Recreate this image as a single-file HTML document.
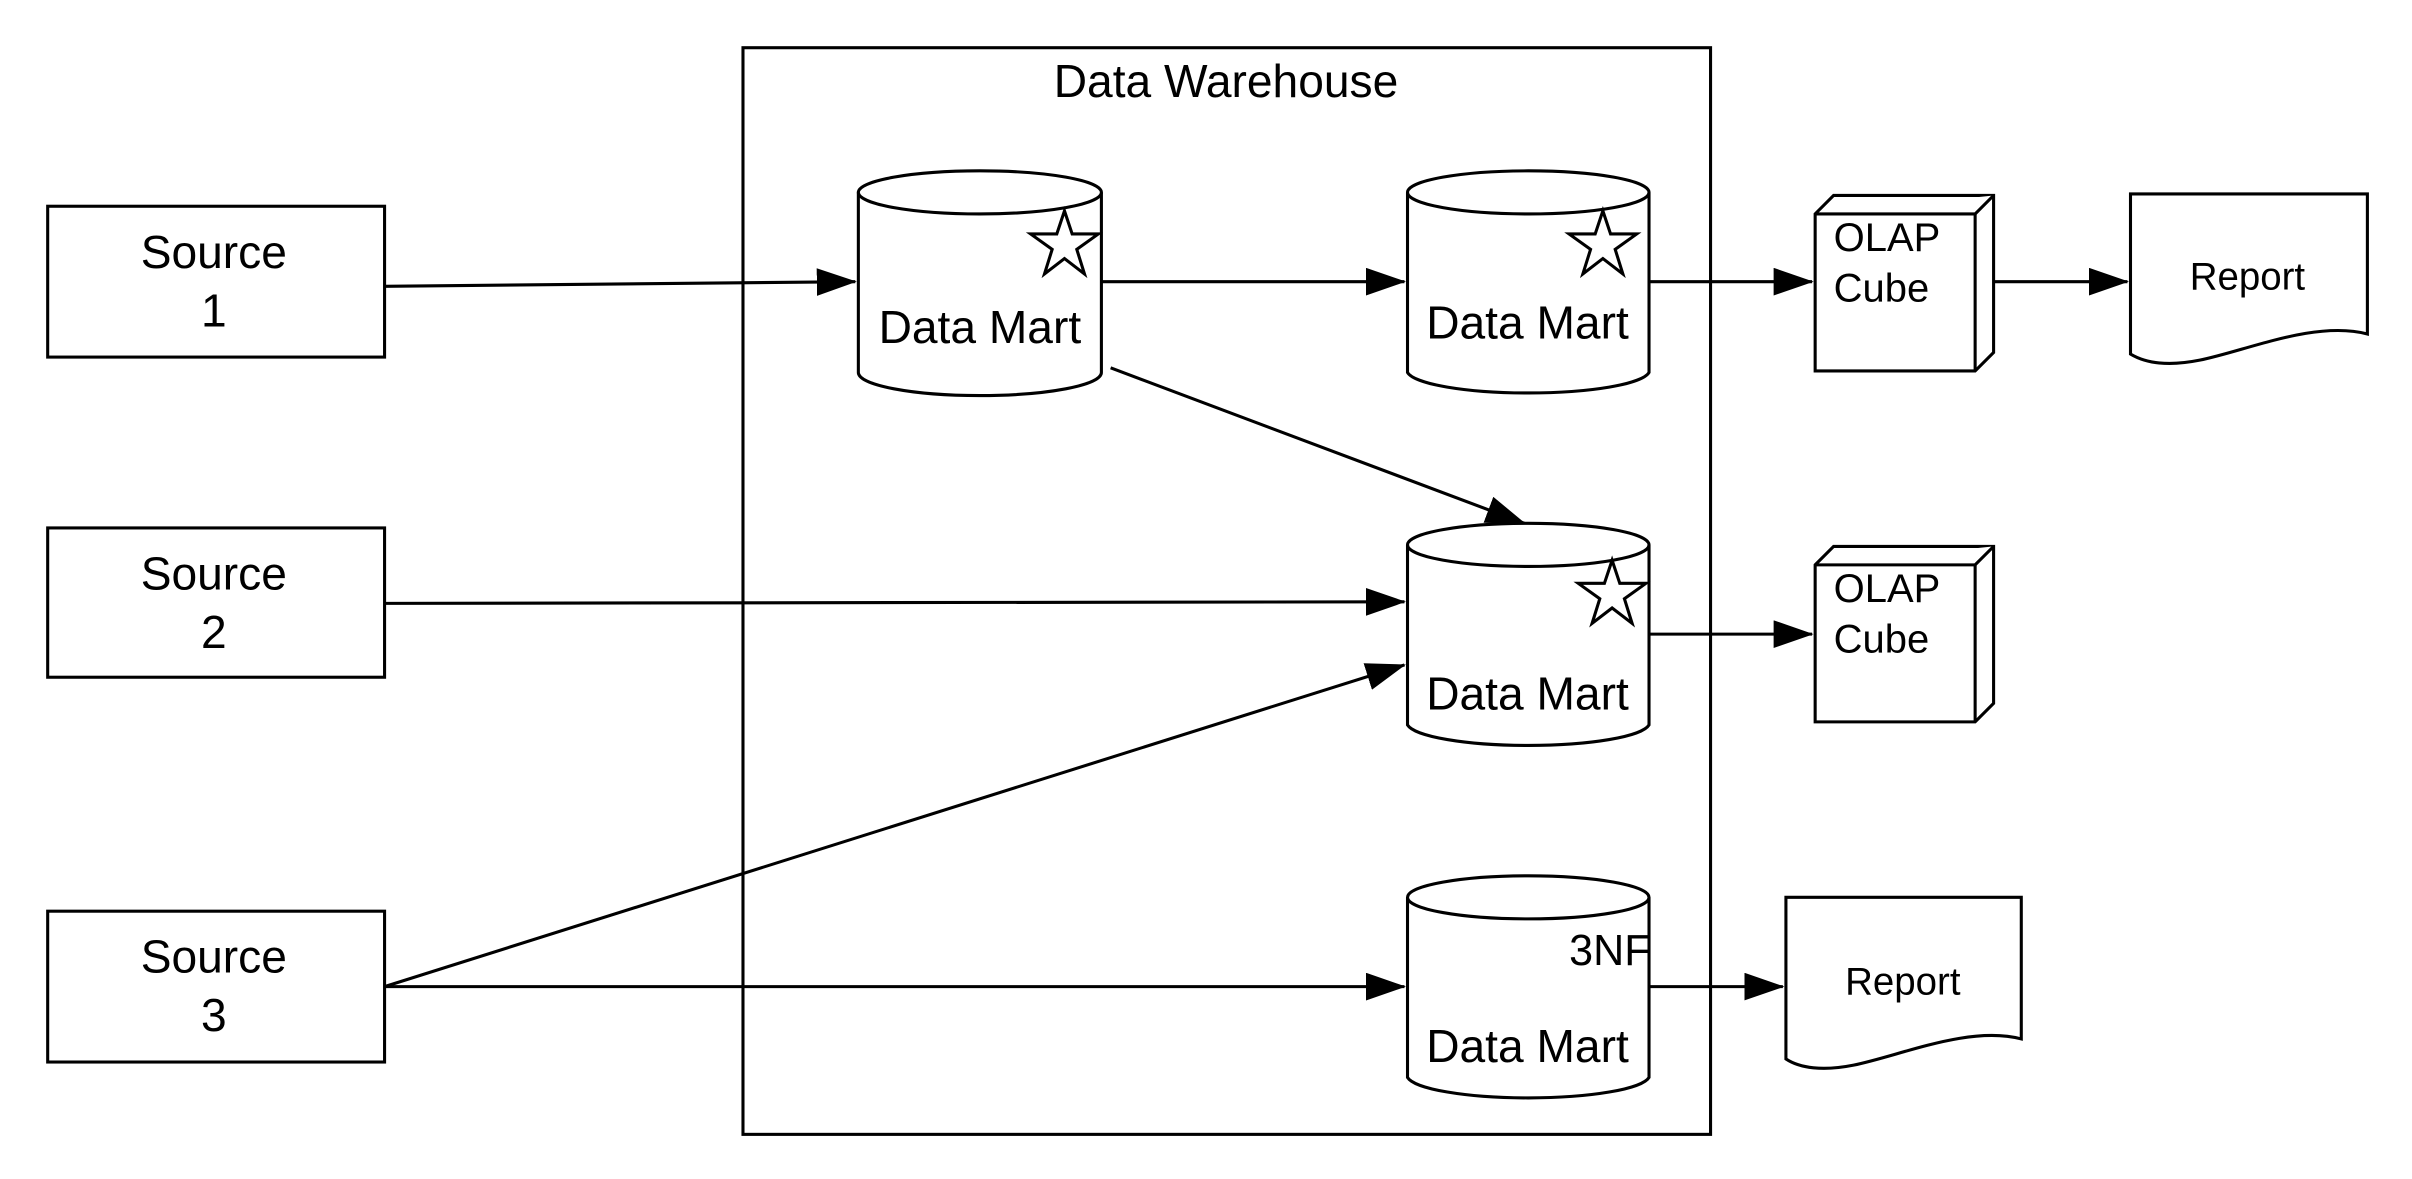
<!DOCTYPE html>
<html><head><meta charset="utf-8"><style>
html,body{margin:0;padding:0;background:#fff;}
svg{display:block;}
text{font-family:"Liberation Sans",Arial,sans-serif;fill:#000;}
</style></head><body>
<svg width="2412" height="1179" viewBox="0 0 1568 766" preserveAspectRatio="none" xmlns="http://www.w3.org/2000/svg">
<defs>
<marker id="a" markerWidth="26" markerHeight="20" refX="25" refY="9" orient="auto" markerUnits="userSpaceOnUse">
<path d="M0,0 L26,9 L0,18 Z" fill="#000"/>
</marker>
</defs>
<g fill="#fff" stroke="#000" stroke-width="2">
<rect x="483" y="31" width="629" height="706"/>
<rect x="31" y="134" width="219" height="98"/>
<rect x="31" y="343" width="219" height="97"/>
<rect x="31" y="592" width="219" height="98"/>
</g>
<text x="797" y="63" font-size="30" text-anchor="middle">Data Warehouse</text>
<g font-size="30" text-anchor="middle">
<text x="139" y="174">Source</text><text x="139" y="212">1</text>
<text x="139" y="383">Source</text><text x="139" y="421">2</text>
<text x="139" y="632">Source</text><text x="139" y="670">3</text>
</g>
<!-- connectors -->
<g stroke="#000" stroke-width="2" fill="none" marker-end="url(#a)">
<line x1="250" y1="186" x2="556" y2="183"/>
<line x1="716" y1="183" x2="913" y2="183"/>
<line x1="1072" y1="183" x2="1178" y2="183"/>
<line x1="1296" y1="183" x2="1383" y2="183"/>
<line x1="722" y1="239" x2="991" y2="340"/>
<line x1="250" y1="392" x2="913" y2="391"/>
<line x1="250" y1="641" x2="913" y2="432"/>
<line x1="250" y1="641" x2="913" y2="641"/>
<line x1="1072" y1="412" x2="1178" y2="412"/>
<line x1="1072" y1="641" x2="1159" y2="641"/>
</g>
<!-- cylinders -->
<g fill="#fff" stroke="#000" stroke-width="2">
<path d="M558,125 L558,242 A79,15 0 0 0 716,242 L716,125"/>
<ellipse cx="637" cy="125" rx="79" ry="14"/>
<path d="M915,125 L915,242 A79,15 0 0 0 1072,242 L1072,125"/>
<ellipse cx="993.5" cy="125" rx="78.5" ry="14"/>
<path d="M915,354 L915,471 A79,15 0 0 0 1072,471 L1072,354"/>
<ellipse cx="993.5" cy="354" rx="78.5" ry="14"/>
<path d="M915,583 L915,700 A79,15 0 0 0 1072,700 L1072,583"/>
<ellipse cx="993.5" cy="583" rx="78.5" ry="14"/>
</g>
<g fill="#fff" stroke="#000" stroke-width="2">
<polygon points="692,137 697,152 714,152 700,162 705,178 692,168 679,178 684,162 670,152 687,152"/>
<polygon points="1042,137 1047,152 1064,152 1050,162 1055,178 1042,168 1029,178 1034,162 1020,152 1037,152"/>
<polygon points="1048,364 1053,379 1070,379 1056,389 1061,405 1048,395 1035,405 1040,389 1026,379 1043,379"/>
</g>
<g font-size="30" text-anchor="middle">
<text x="637" y="223">Data Mart</text>
<text x="993" y="220">Data Mart</text>
<text x="993" y="461">Data Mart</text>
<text x="993" y="690">Data Mart</text>
</g>
<text x="1073" y="627" font-size="28" text-anchor="end">3NF</text>
<!-- OLAP cubes -->
<g fill="#fff" stroke="#000" stroke-width="2">
<polygon points="1180,139 1192,127 1296,127 1296,229 1284,241 1180,241"/>
<polyline points="1180,139 1284,139 1296,127"/>
<line x1="1284" y1="139" x2="1284" y2="241"/>
<polygon points="1180,367 1192,355 1296,355 1296,457 1284,469 1180,469"/>
<polyline points="1180,367 1284,367 1296,355"/>
<line x1="1284" y1="367" x2="1284" y2="469"/>
</g>
<g font-size="26">
<text x="1192" y="163">OLAP</text><text x="1192" y="196">Cube</text>
<text x="1192" y="391">OLAP</text><text x="1192" y="424">Cube</text>
</g>
<!-- reports -->
<g fill="#fff" stroke="#000" stroke-width="2">
<path d="M1385,126 L1539,126 L1539,217 C1505,208 1460,228 1430,234 C1410,238 1395,236 1385,230 Z"/>
<path d="M1161,583 L1314,583 L1314,675 C1280,666 1235,686 1205,692 C1185,696 1170,694 1161,688 Z"/>
</g>
<g font-size="25" text-anchor="middle">
<text x="1461" y="188">Report</text>
<text x="1237" y="646">Report</text>
</g>
</svg>
</body></html>
